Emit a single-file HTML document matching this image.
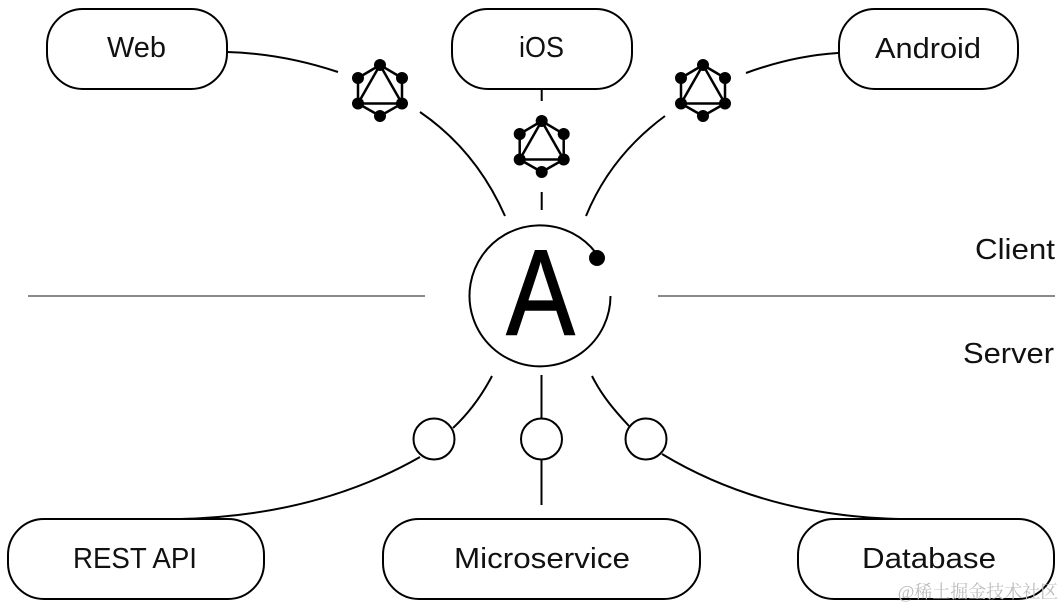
<!DOCTYPE html>
<html>
<head>
<meta charset="utf-8">
<style>
html,body{margin:0;padding:0;background:#fff;width:1064px;height:609px;overflow:hidden}
svg{display:block}
text{font-family:"Liberation Sans",sans-serif;fill:#111;font-size:29px}
.l{fill:none;stroke:#000;stroke-width:2}
.b{fill:#fff;stroke:#000;stroke-width:2}
</style>
</head>
<body>
<svg width="1064" height="609" viewBox="0 0 1064 609" xmlns="http://www.w3.org/2000/svg">
<defs>
<g id="gql">
<path d="M0 -26L-22 -13L-22 12.500L0 25L22 12.500L22 -13ZM0 -26L-22 12.500L22 12.500Z" fill="none" stroke="#000" stroke-width="2.500"/>
<circle cx="0" cy="-26" r="6"/><circle cx="-22" cy="-13" r="6"/><circle cx="-22" cy="12.500" r="6"/>
<circle cx="0" cy="25" r="6"/><circle cx="22" cy="12.500" r="6"/><circle cx="22" cy="-13" r="6"/>
</g>
</defs>
<!-- connectors -->
<path class="l" d="M227 52C264 53 302 60 338 72"/>
<path class="l" d="M420 112C458 138 486 173 505 216"/>
<path class="l" d="M746 73C776 62 806 55 838 53"/>
<path class="l" d="M665 116C627 144 602 177 586 216"/>
<path class="l" d="M541.700 89V101M541.700 192V210"/>
<path d="M28 296H425M658 296H1055" fill="none" stroke="#8a8a8a" stroke-width="2"/>
<path class="l" d="M492 376C481 397 468 414 453 428"/>
<path class="l" d="M420 457C350 497 270 517 180 519"/>
<path class="l" d="M541.500 375V419M541.500 459V505"/>
<path class="l" d="M592 376C602 396 615 411 629 426"/>
<path class="l" d="M662 454C730 495 810 517 900 519"/>
<!-- boxes -->
<rect class="b" x="47" y="9" width="180" height="80" rx="36"/>
<rect class="b" x="452" y="9" width="180" height="80" rx="36"/>
<rect class="b" x="839" y="9" width="179" height="80" rx="36"/>
<rect class="b" x="8" y="519" width="256" height="80" rx="36"/>
<rect class="b" x="383" y="519" width="317" height="80" rx="36"/>
<rect class="b" x="798" y="519" width="256" height="80" rx="36"/>
<text x="107" y="57" textLength="59" lengthAdjust="spacingAndGlyphs">Web</text>
<text x="519" y="57" textLength="45" lengthAdjust="spacingAndGlyphs">iOS</text>
<text x="875" y="58" textLength="106" lengthAdjust="spacingAndGlyphs">Android</text>
<text x="73" y="568" textLength="124" lengthAdjust="spacingAndGlyphs">REST API</text>
<text x="454" y="568" textLength="176" lengthAdjust="spacingAndGlyphs">Microservice</text>
<text x="862" y="568" textLength="134" lengthAdjust="spacingAndGlyphs">Database</text>
<text x="975" y="259" textLength="80" lengthAdjust="spacingAndGlyphs">Client</text>
<text x="963" y="363" textLength="91" lengthAdjust="spacingAndGlyphs">Server</text>
<!-- GraphQL icons -->
<use href="#gql" x="380" y="91"/>
<use href="#gql" x="541.700" y="147"/>
<use href="#gql" x="703" y="91"/>
<!-- hub -->
<path class="l" d="M610.500 296A70.500 70.500 0 1 1 596 253"/>
<circle cx="597" cy="258" r="8"/>
<text transform="translate(540.500 334.500) scale(.84 1)" text-anchor="middle" style="font-size:122px;fill:#000;stroke:#000;stroke-width:1.500">A</text>
<!-- small circles -->
<circle class="b" cx="434" cy="439" r="20.500"/>
<circle class="b" cx="541.500" cy="439" r="20.500"/>
<circle class="b" cx="646" cy="439" r="20.500"/>
<!-- watermark -->
<text x="978" y="598" text-anchor="middle" style="font-family:'Liberation Serif','Noto Serif CJK SC',serif;font-size:18px;fill:#bdbdbd">@稀土掘金技术社区</text>
</svg>
</body>
</html>
